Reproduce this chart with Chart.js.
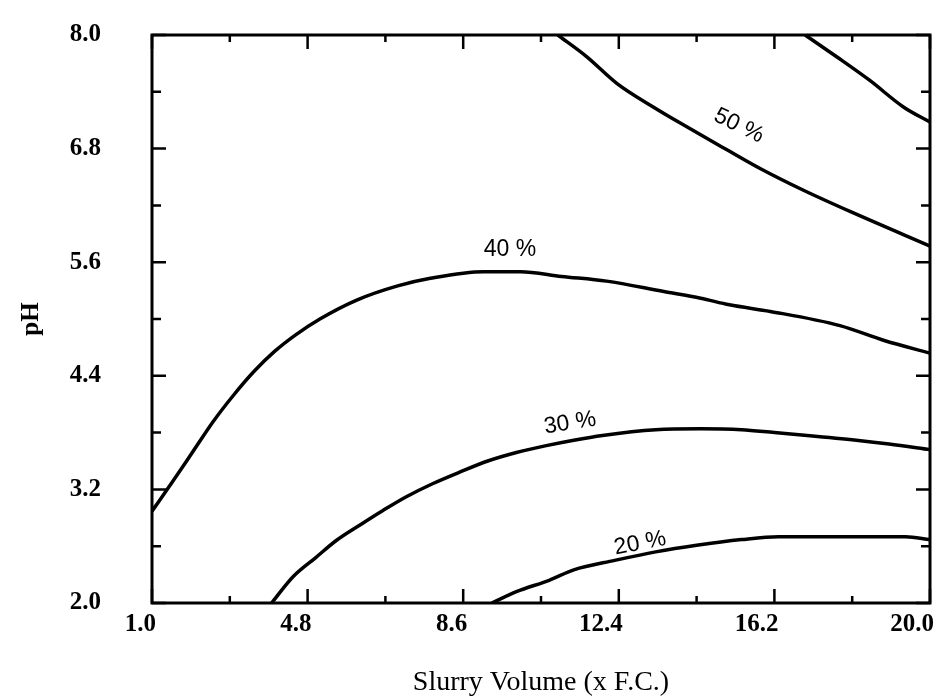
<!DOCTYPE html>
<html>
<head>
<meta charset="utf-8">
<script src="https://cdn.jsdelivr.net/npm/chart.js@4.4.1/dist/chart.umd.min.js"></script>
<style>
  html, body { margin: 0; padding: 0; background: #fff; }
  #wrap { width: 941px; height: 699px; }
</style>
</head>
<body>
<div id="wrap"><canvas id="contourChart" width="941" height="699"></canvas></div>
<script>
// tick values
var xTicks = [1.0, 4.8, 8.6, 12.4, 16.2, 20.0];
var yTicks = [2.0, 3.2, 4.4, 5.6, 6.8, 8.0];

// contour lines (slurry volume, pH)
var c20X = [9.3, 9.9, 10.7, 11.3, 12.3, 13.3, 14.3, 15.4, 16.3, 17.8, 19.4, 20.0];
var c20Y = [2.0, 2.12, 2.24, 2.35, 2.45, 2.54, 2.61, 2.67, 2.70, 2.70, 2.70, 2.67];

var c30X = [3.92, 4.45, 5.0, 5.5, 6.1, 6.65, 7.2, 7.85, 8.5, 9.2, 9.9, 10.6, 11.3, 12.0, 13.3, 14.4, 15.4, 16.2, 17.0, 18.2, 19.0, 20.0];
var c30Y = [2.0, 2.28, 2.48, 2.66, 2.83, 2.98, 3.12, 3.26, 3.38, 3.50, 3.59, 3.66, 3.72, 3.77, 3.83, 3.84, 3.83, 3.80, 3.77, 3.72, 3.68, 3.62];

var c40X = [1.0, 1.5, 2.0, 2.5, 3.0, 3.5, 4.0, 4.5, 5.1, 6.0, 7.0, 7.8, 9.1, 10.0, 11.0, 12.1, 13.5, 14.4, 15.1, 16.1, 17.8, 18.9, 20.0];
var c40Y = [2.97, 3.28, 3.60, 3.92, 4.20, 4.45, 4.66, 4.83, 5.00, 5.20, 5.35, 5.43, 5.50, 5.50, 5.45, 5.40, 5.29, 5.22, 5.15, 5.08, 4.93, 4.77, 4.64];

var c50X = [10.91, 11.62, 12.35, 13.24, 14.06, 15.03, 15.85, 16.91, 18.13, 20.0];
var c50Y = [8.0, 7.77, 7.49, 7.24, 7.03, 6.79, 6.59, 6.36, 6.12, 5.77];

var c60X = [16.95, 17.72, 18.53, 19.35, 20.0];
var c60Y = [8.0, 7.77, 7.52, 7.24, 7.08];

var labelText = ['20 %', '30 %', '40 %', '50 %'];
var labelX = [12.92, 11.21, 9.74, 15.33];
var labelY = [2.63, 3.90, 5.73, 7.04];
var labelAngle = [-11, -9, 0, 26];

function pts(xs, ys) {
    return xs.map(function (x, i) { return { x: x, y: ys[i] }; });
}

function line(xs, ys) {
    return {
        data: pts(xs, ys),
        showLine: true,
        borderColor: '#000',
        borderWidth: 3.5,
        pointRadius: 0,
        cubicInterpolationMode: 'monotone',
        fill: false
    };
}

// frame with inward ticks on all four sides, plus contour labels
var framePlugin = {
    id: 'frame',
    afterDraw: function (chart) {
        var ctx = chart.ctx;
        var a = chart.chartArea;
        var sx = chart.scales.x, sy = chart.scales.y;
        ctx.save();
        ctx.strokeStyle = '#000';
        ctx.lineWidth = 3;
        ctx.strokeRect(a.left, a.top, a.right - a.left, a.bottom - a.top);
        ctx.lineWidth = 2.5;
        ctx.beginPath();
        var i, p;
        for (i = 0; i < xTicks.length; i++) {
            p = sx.getPixelForValue(xTicks[i]);
            ctx.moveTo(p, a.bottom); ctx.lineTo(p, a.bottom - 14);
            ctx.moveTo(p, a.top); ctx.lineTo(p, a.top + 14);
            if (i < xTicks.length - 1) {
                p = sx.getPixelForValue((xTicks[i] + xTicks[i + 1]) / 2);
                ctx.moveTo(p, a.bottom); ctx.lineTo(p, a.bottom - 7);
                ctx.moveTo(p, a.top); ctx.lineTo(p, a.top + 7);
            }
        }
        for (i = 0; i < yTicks.length; i++) {
            p = sy.getPixelForValue(yTicks[i]);
            ctx.moveTo(a.left, p); ctx.lineTo(a.left + 14, p);
            ctx.moveTo(a.right, p); ctx.lineTo(a.right - 14, p);
            if (i < yTicks.length - 1) {
                p = sy.getPixelForValue((yTicks[i] + yTicks[i + 1]) / 2);
                ctx.moveTo(a.left, p); ctx.lineTo(a.left + 9, p);
                ctx.moveTo(a.right, p); ctx.lineTo(a.right - 9, p);
            }
        }
        ctx.stroke();

        ctx.fillStyle = '#000';
        ctx.font = '23px "Liberation Sans", Arial, sans-serif';
        ctx.textAlign = 'center';
        ctx.textBaseline = 'middle';
        for (i = 0; i < labelText.length; i++) {
            ctx.save();
            ctx.translate(sx.getPixelForValue(labelX[i]), sy.getPixelForValue(labelY[i]));
            ctx.rotate(labelAngle[i] * Math.PI / 180);
            ctx.fillText(labelText[i], 0, 0);
            ctx.restore();
        }
        ctx.restore();
    }
};

document.addEventListener('DOMContentLoaded', function () {
    var ctx = document.getElementById('contourChart').getContext('2d');
    var tickFont = { family: '"Liberation Serif", "Times New Roman", serif', size: 25, weight: 'bold' };
    new Chart(ctx, {
        type: 'scatter',
        data: {
            datasets: [
                line(c20X, c20Y),
                line(c30X, c30Y),
                line(c40X, c40Y),
                line(c50X, c50Y),
                line(c60X, c60Y)
            ]
        },
        options: {
            responsive: false,
            animation: false,
            events: [],
            layout: { autoPadding: false, padding: { top: 35, right: 11, left: 0, bottom: 0 } },
            plugins: { legend: { display: false }, tooltip: { enabled: false } },
            scales: {
                x: {
                    type: 'linear',
                    min: 1,
                    max: 20,
                    afterBuildTicks: function (s) { s.ticks = xTicks.map(function (v) { return { value: v }; }); },
                    afterFit: function (s) {
                        s.height = 96;
                        s.paddingLeft = 0; s.paddingRight = 0;
                    },
                    grid: { display: false, drawTicks: false },
                    border: { display: false },
                    ticks: {
                        align: 'end',
                        labelOffset: 4,
                        padding: 7,
                        maxRotation: 0,
                        autoSkip: false,
                        color: '#000',
                        font: tickFont,
                        callback: function (v) { return Number(v).toFixed(1); }
                    },
                    title: {
                        display: true,
                        text: 'Slurry Volume (x F.C.)',
                        color: '#000',
                        font: { family: '"Liberation Serif", "Times New Roman", serif', size: 28 },
                        padding: { top: 0, bottom: 0 }
                    }
                },
                y: {
                    type: 'linear',
                    min: 2,
                    max: 8,
                    afterBuildTicks: function (s) { s.ticks = yTicks.map(function (v) { return { value: v }; }); },
                    afterFit: function (s) {
                        s.width = 152;
                        s.paddingTop = 0; s.paddingBottom = 0;
                    },
                    grid: { display: false, drawTicks: false },
                    border: { display: false },
                    ticks: {
                        padding: 51,
                        autoSkip: false,
                        color: '#000',
                        font: tickFont,
                        callback: function (v) { return Number(v).toFixed(1); }
                    },
                    title: {
                        display: true,
                        text: 'pH',
                        color: '#000',
                        font: { family: '"Liberation Serif", "Times New Roman", serif', size: 25, weight: 'bold' },
                        padding: { top: 17, bottom: 0 }
                    }
                }
            }
        },
        plugins: [framePlugin]
    });
});
</script>
</body>
</html>
